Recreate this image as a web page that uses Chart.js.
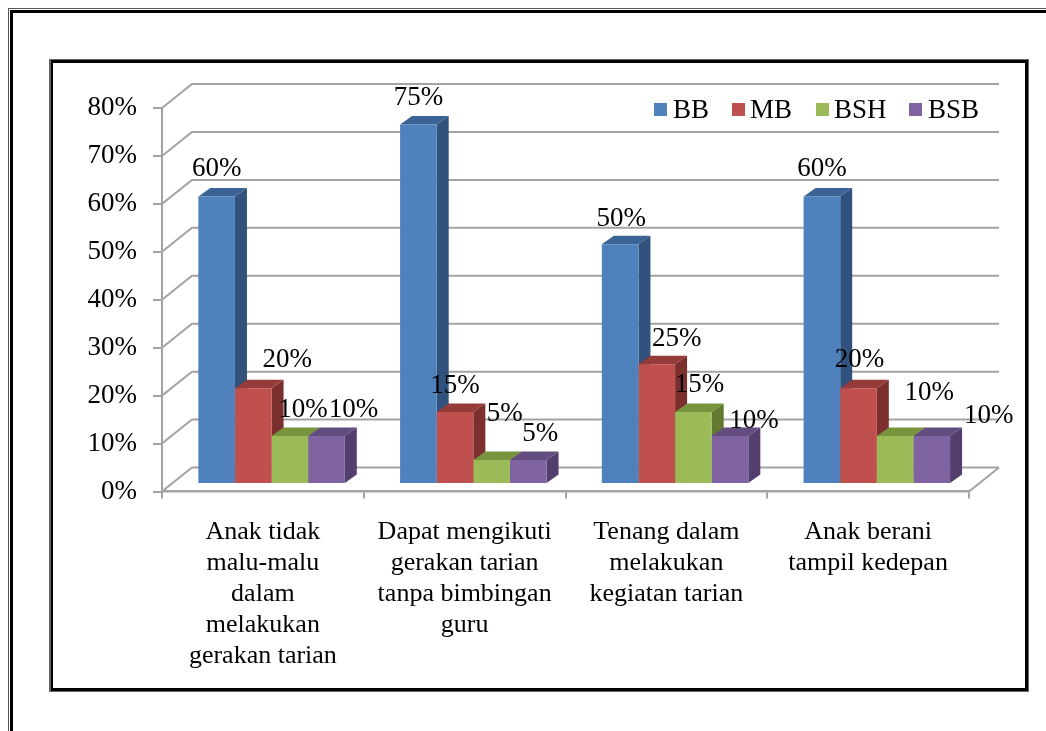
<!DOCTYPE html>
<html>
<head>
<meta charset="utf-8">
<title>Chart</title>
<script src="https://cdn.jsdelivr.net/npm/chart.js@4"></script>
<style>
  html, body { margin: 0; padding: 0; background: #fff; overflow: hidden; }
  #page { position: relative; width: 1046px; height: 731px; overflow: hidden; }
  #outer { position: absolute; left: 8px; top: 8px; width: 1100px; height: 800px; border: 1px solid #555; }
  #outer div { position: absolute; left: 1px; top: 1px; width: 1100px; height: 800px; border: 3px solid #000; }
  #inner { position: absolute; left: 49px; top: 59px; width: 977px; height: 631px; border: 1px solid #666; border-left-width: 2px; }
  #inner div { position: absolute; left: 0; top: 0; right: 0; bottom: 0; border: 3px solid #000; border-left-width: 2px; }
  canvas { position: absolute; left: 0; top: 0; }
</style>
</head>
<body>
<div id="page">
  <div id="outer"><div></div></div>
  <div id="inner"><div></div></div>
  <canvas id="chart" width="1046" height="731"></canvas>
</div>
<script>
const categories = [
  ["Anak tidak", "malu-malu", "dalam", "melakukan", "gerakan tarian"],
  ["Dapat mengikuti", "gerakan tarian", "tanpa bimbingan", "guru"],
  ["Tenang dalam", "melakukan", "kegiatan tarian"],
  ["Anak berani", "tampil kedepan"]
];
const seriesNames = ["BB", "MB", "BSH", "BSB"];
const bb = [60, 75, 50, 60];
const mb = [20, 15, 25, 20];
const bsh = [10, 5, 15, 10];
const bsb = [10, 5, 10, 10];

const fronts = ["#4F81BD", "#C0504D", "#9BBB59", "#8064A2"];
const tops = ["#3B6496", "#953B39", "#77933C", "#634C80"];
const sides = ["#31527C", "#7C302E", "#62792F", "#533F6E"];

const serif = "'Liberation Serif', 'Times New Roman', serif";
const wallX = 30, wallY = 24;    // back wall offset
const barX = 8.7, barY = 7.5;    // bars stand a bit behind the axis
const depthX = 12, depthY = 8.5; // bar depth

// the value labels were moved by hand in the original: [dx, dy] from the bar top
const nudges = [
  [[0, -20], [34, -21], [13, -19], [27, -19]],
  [[0, -19], [0, -19], [13, -39], [12, -19]],
  [[1, -18], [20, -18], [6, -20], [24, -8]],
  [[0, -20], [1, -21], [34, -36], [57, -13]]
];

// legend squares and text start, x only
const legendBox = [654, 732, 816, 909];
const legendText = [673, 750, 834, 928];

const wallPlugin = {
  id: "wall",
  beforeDatasetsDraw(chart) {
    const { ctx, scales: { y }, chartArea: a } = chart;
    ctx.save();
    ctx.strokeStyle = "#a3a3a3";
    ctx.lineWidth = 2;
    y.ticks.forEach(t => {
      const py = y.getPixelForValue(t.value);
      ctx.beginPath();
      ctx.moveTo(a.left, py);
      ctx.lineTo(a.left + wallX, py - wallY);
      ctx.lineTo(a.right + wallX, py - wallY);
      ctx.stroke();
    });
    ctx.beginPath();
    ctx.moveTo(a.right, a.bottom);
    ctx.lineTo(a.right + wallX, a.bottom - wallY);
    ctx.stroke();
    ctx.restore();

    // everything in the datasets is drawn shifted
    ctx.save();
    ctx.translate(barX, -barY);

    // tops and sides first, left to right, the fronts then cover them
    chart.data.datasets.forEach((ds, i) => {
      chart.getDatasetMeta(i).data.forEach(bar => {
        const l = bar.x - bar.width / 2, r = bar.x + bar.width / 2;
        const t = bar.y, b = bar.base;
        ctx.fillStyle = tops[i];
        ctx.beginPath();
        ctx.moveTo(l, t);
        ctx.lineTo(l + depthX, t - depthY);
        ctx.lineTo(r + depthX, t - depthY);
        ctx.lineTo(r, t);
        ctx.closePath();
        ctx.fill();
        ctx.fillStyle = sides[i];
        ctx.beginPath();
        ctx.moveTo(r, t);
        ctx.lineTo(r + depthX, t - depthY);
        ctx.lineTo(r + depthX, b - depthY);
        ctx.lineTo(r, b);
        ctx.closePath();
        ctx.fill();
      });
    });
  },
  afterDatasetsDraw(chart) {
    const ctx = chart.ctx;
    ctx.restore();

    // value labels
    ctx.save();
    ctx.fillStyle = "#000";
    ctx.font = "27px " + serif;
    ctx.textAlign = "center";
    ctx.textBaseline = "alphabetic";
    chart.data.datasets.forEach((ds, i) => {
      chart.getDatasetMeta(i).data.forEach((bar, c) => {
        const n = nudges[c][i];
        ctx.fillText(ds.data[c] + "%", bar.x + barX + n[0], bar.y - barY + n[1]);
      });
    });

    // legend
    ctx.textAlign = "left";
    seriesNames.forEach((name, i) => {
      ctx.fillStyle = fronts[i];
      ctx.fillRect(legendBox[i], 103, 13, 13);
      ctx.fillStyle = "#000";
      ctx.fillText(name, legendText[i], 118);
    });
    ctx.restore();
  }
};

new Chart(document.getElementById("chart").getContext("2d"), {
  type: "bar",
  data: {
    labels: categories,
    datasets: [bb, mb, bsh, bsb].map((values, i) => ({
      label: seriesNames[i],
      data: values,
      backgroundColor: fronts[i],
      clip: false
    }))
  },
  options: {
    responsive: false,
    animation: false,
    layout: { padding: { left: 0, top: 108, right: 77, bottom: 0 } },
    datasets: { bar: { categoryPercentage: 0.726, barPercentage: 1 } },
    plugins: { legend: { display: false }, tooltip: { enabled: false } },
    scales: {
      x: {
        afterFit: s => { s.height = 239.5; },
        grid: { drawOnChartArea: false, color: "#a3a3a3", tickLength: 7, lineWidth: 2 },
        border: { color: "#a3a3a3", width: 2.5 },
        ticks: {
          color: "#000",
          padding: 18,
          maxRotation: 0,
          autoSkip: false,
          font: { family: serif, size: 26, lineHeight: 31 / 26 }
        }
      },
      y: {
        min: 0,
        max: 80,
        afterFit: s => { s.width = 162; },
        grid: { drawOnChartArea: false, color: "#a3a3a3", tickLength: 9, lineWidth: 2 },
        border: { color: "#a3a3a3", width: 2 },
        ticks: {
          stepSize: 10,
          color: "#000",
          padding: 16,
          font: { family: serif, size: 27 },
          callback: v => v + "%"
        }
      }
    }
  },
  plugins: [wallPlugin]
});
</script>
</body>
</html>
